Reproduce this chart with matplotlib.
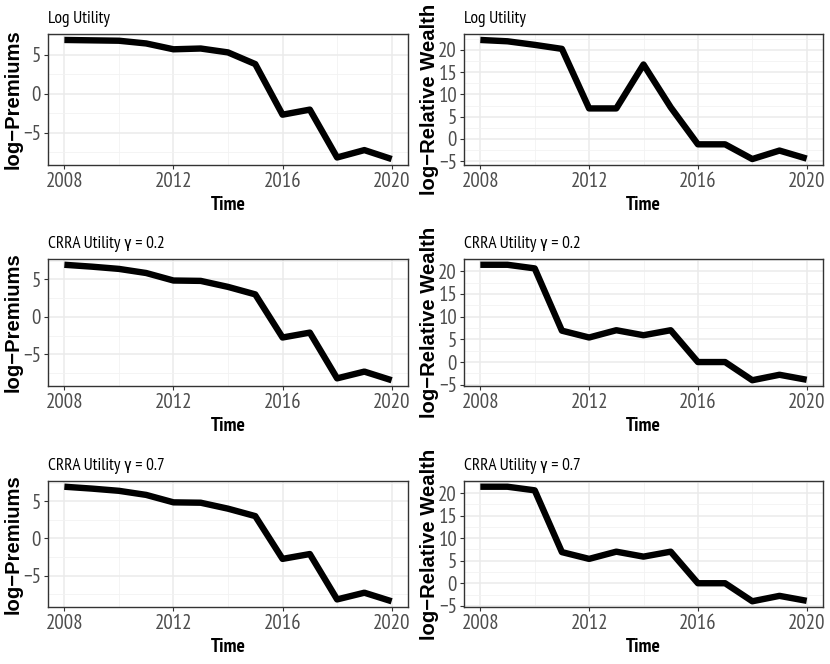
import matplotlib
matplotlib.use("Agg")
import matplotlib.pyplot as plt
from matplotlib.ticker import MultipleLocator

years = list(range(2008, 2021))

log_prem = [6.9, 6.85, 6.8, 6.45, 5.7, 5.8, 5.3, 3.8, -2.7, -2.05, -8.2, -7.25, -8.4]
log_wealth = [22.2, 21.9, 21.1, 20.2, 6.85, 6.85, 16.7, 7.1, -1.2, -1.2, -4.5, -2.6, -4.4]
crra02_prem = [6.95, 6.7, 6.4, 5.85, 4.85, 4.8, 4.0, 3.0, -2.75, -2.1, -8.2, -7.3, -8.45]
crra02_wealth = [21.4, 21.4, 20.6, 6.9, 5.4, 7.0, 5.9, 7.0, 0.0, 0.0, -4.0, -2.8, -3.9]
crra07_prem = [6.95, 6.7, 6.4, 5.85, 4.85, 4.8, 4.0, 3.0, -2.75, -2.1, -8.2, -7.3, -8.45]
crra07_wealth = [21.4, 21.4, 20.6, 6.9, 5.4, 7.0, 5.9, 7.0, 0.0, 0.0, -4.0, -2.8, -3.9]

titles = ["Log Utility", "CRRA Utility γ = 0.2", "CRRA Utility γ = 0.7"]
rows = [(log_prem, log_wealth), (crra02_prem, crra02_wealth), (crra07_prem, crra07_wealth)]

NARROW = ["PT Sans Narrow", "Roboto Condensed", "Liberation Sans", "DejaVu Sans"]
BOLD = ["Liberation Sans", "DejaVu Sans"]

fig = plt.figure(figsize=(8.3, 6.64), dpi=100)

# panel boxes in pixels: rows (top, bottom), cols (left, right)
row_px = [(34, 165), (259, 386), (481, 607)]
col_px = [(48, 408), (464, 823)]
W, H = 830, 664


def style(ax, series, ylabel, title, ystep, wpx, hpx):
    ax.plot(years, series, color="black", lw=4.6, solid_capstyle="butt",
            solid_joinstyle="round", zorder=3)
    lo, hi = min(series), max(series)
    pad = 0.05 * (hi - lo)
    ax.set_ylim(lo - pad, hi + pad)
    ax.set_xlim(2008 - 0.6, 2020 + 0.6)
    ax.xaxis.set_major_locator(MultipleLocator(4))
    ax.xaxis.set_minor_locator(MultipleLocator(2))
    ax.yaxis.set_major_locator(MultipleLocator(ystep))
    ax.yaxis.set_minor_locator(MultipleLocator(ystep / 2))
    ax.grid(which="major", color="#ebebeb", lw=1.1, zorder=0)
    ax.grid(which="minor", color="#f2f2f2", lw=0.6, zorder=0)
    ax.set_axisbelow(True)
    for s in ax.spines.values():
        s.set_color("#333333")
        s.set_linewidth(1.0)
    ax.tick_params(which="major", length=3, width=0.8, color="#333333",
                   labelcolor="#4d4d4d", labelsize=15, pad=2)
    ax.tick_params(which="minor", length=0)
    for lab in ax.get_xticklabels() + ax.get_yticklabels():
        lab.set_family(NARROW)
    ax.set_xlabel("Time", family=NARROW, fontweight="bold", fontsize=14)
    ax.xaxis.set_label_coords(0.5, -31 / hpx)
    ax.set_ylabel(ylabel, family=BOLD, fontweight="bold", fontsize=14.6)
    ax.yaxis.set_label_coords(-25 / wpx, 0.5)
    ax.set_title(title, loc="left", family=NARROW, fontsize=12.5, pad=8)


for r, (prem, wealth) in enumerate(rows):
    top, bot = row_px[r]
    for c, (series, ylabel) in enumerate(
            [(prem, "log\u2212Premiums"), (wealth, "log\u2212Relative Wealth")]):
        left, right = col_px[c]
        ax = fig.add_axes([left / W, 1 - bot / H, (right - left) / W, (bot - top) / H])
        style(ax, series, ylabel, titles[r], 5, right - left, bot - top)

fig.savefig("out.png", dpi=100)
